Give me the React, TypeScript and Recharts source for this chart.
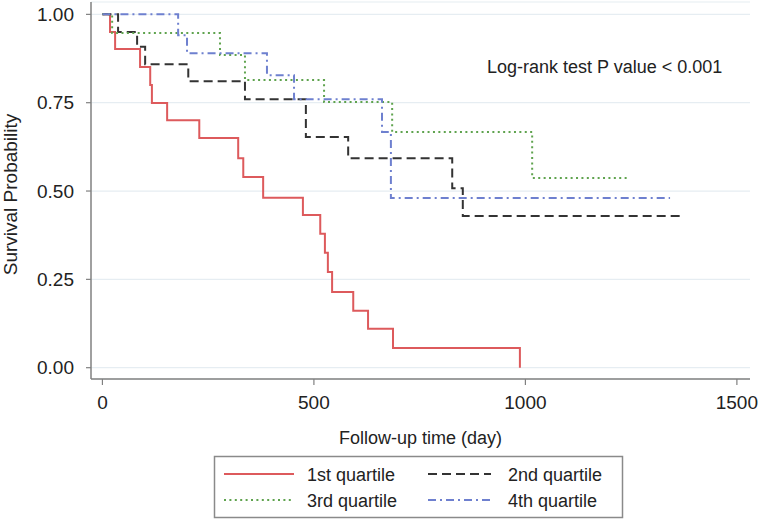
import React from 'react';
import { LineChart, Line, XAxis, YAxis, CartesianGrid, Label } from 'recharts';

// Kaplan–Meier step points (time in days, survival probability)
const q1Time = [0, 18, 30, 89, 113, 117, 153, 229, 321, 333, 380, 474, 515, 526, 533, 543, 593, 628, 687, 987];
const q1Surv = [1, 0.95, 0.902, 0.851, 0.8, 0.749, 0.7, 0.65, 0.593, 0.54, 0.481, 0.432, 0.379, 0.325, 0.271, 0.214, 0.161, 0.11, 0.056, 0];

const q2Time = [0, 37, 82, 101, 203, 337, 481, 581, 827, 852, 1365];
const q2Surv = [1, 0.95, 0.908, 0.859, 0.811, 0.76, 0.653, 0.593, 0.508, 0.429, 0.429];

const q3Time = [0, 23, 278, 337, 524, 685, 1016, 1243];
const q3Surv = [1, 0.947, 0.885, 0.814, 0.752, 0.667, 0.537, 0.537];

const q4Time = [0, 179, 200, 389, 453, 661, 682, 1342];
const q4Surv = [1, 0.941, 0.89, 0.828, 0.76, 0.667, 0.48, 0.48];

const xTicks = [0, 500, 1000, 1500];
const yTicks = [0, 0.25, 0.5, 0.75, 1];

const seriesNames = ['1st quartile', '2nd quartile', '3rd quartile', '4th quartile'];

const toData = (t: number[], s: number[]) => t.map((v, i) => ({ t: v, s: s[i] }));

const q1 = toData(q1Time, q1Surv);
const q2 = toData(q2Time, q2Surv);
const q3 = toData(q3Time, q3Surv);
const q4 = toData(q4Time, q4Surv);

const FONT = '"Liberation Sans", Arial, Helvetica, sans-serif';
const RED = '#dd5a5c';
const BLACK = '#333333';
const GREEN = '#5fa34e';
const BLUE = '#6e80cf';

const styles = [
  { color: RED, dash: undefined as string | undefined, width: 2 },
  { color: BLACK, dash: '9 5', width: 2 },
  { color: GREEN, dash: '2 3.4', width: 2 },
  { color: BLUE, dash: '8 4 2 4', width: 2 },
];

export default function App() {
  return (
    <div style={{ position: 'absolute', left: 0, top: 0, width: 758, height: 524, background: '#fff' }}>
      <LineChart
        width={758}
        height={524}
        margin={{ top: 2, right: 8, left: 0, bottom: 115 }}
        style={{ fontFamily: FONT }}
      >
        <CartesianGrid vertical={false} stroke="#e6edf2" strokeWidth={1.2} />
        <XAxis
          type="number"
          dataKey="t"
          domain={[-27, 1531]}
          ticks={xTicks}
          allowDataOverflow
          height={30}
          tickSize={6}
          tickMargin={11}
          stroke="#808080"
          axisLine={{ stroke: '#808080', strokeWidth: 1.5 }}
          tickLine={{ stroke: '#808080', strokeWidth: 1.2 }}
          tick={{ fontSize: 19, fill: '#222', fontFamily: FONT }}
        >
          <Label
            value="Follow-up time (day)"
            position="bottom"
            offset={22}
            style={{ fontSize: 18, fill: '#222', fontFamily: FONT }}
          />
        </XAxis>
        <YAxis
          type="number"
          domain={[-0.032, 1.035]}
          ticks={yTicks}
          allowDataOverflow
          width={91}
          tickSize={5}
          tickMargin={12}
          tickFormatter={(v: number) => v.toFixed(2)}
          axisLine={{ stroke: '#808080', strokeWidth: 1.5 }}
          tickLine={{ stroke: '#808080', strokeWidth: 1.2 }}
          tick={{ fontSize: 19, fill: '#222', fontFamily: FONT }}
        >
          <Label
            value="Survival Probability"
            angle={-90}
            position="insideLeft"
            offset={10}
            dy={4}
            style={{ fontSize: 19, fill: '#222', fontFamily: FONT, textAnchor: 'middle' }}
          />
        </YAxis>
        {[q1, q2, q3, q4].map((d, i) => (
          <Line
            key={seriesNames[i]}
            name={seriesNames[i]}
            data={d}
            dataKey="s"
            type="stepAfter"
            stroke={styles[i].color}
            strokeWidth={styles[i].width}
            strokeDasharray={styles[i].dash}
            dot={false}
            activeDot={false}
            isAnimationActive={false}
          />
        ))}
      </LineChart>
      <svg
        width={758}
        height={524}
        style={{ position: 'absolute', left: 0, top: 0, pointerEvents: 'none', fontFamily: FONT }}
      >
        <text x={487} y={73} fontSize={18} fill="#222">Log-rank test P value &lt; 0.001</text>
        <rect x={214.5} y={456.5} width={408} height={61} fill="#fff" stroke="#8a8a8a" strokeWidth={1.5} />
        {[0, 1, 2, 3].map((i) => {
          const col = i % 2;
          const row = Math.floor(i / 2);
          const cy = row === 0 ? 474 : 500;
          const x1 = col === 0 ? 224 : 428;
          const x2 = col === 0 ? 294 : 491;
          const tx = col === 0 ? 307 : 508;
          return (
            <g key={seriesNames[i]}>
              <line
                x1={x1}
                x2={x2}
                y1={cy}
                y2={cy}
                stroke={styles[i].color}
                strokeWidth={styles[i].width}
                strokeDasharray={styles[i].dash}
              />
              <text x={tx} y={cy + 6.5} fontSize={18} fill="#222">{seriesNames[i]}</text>
            </g>
          );
        })}
      </svg>
    </div>
  );
}
